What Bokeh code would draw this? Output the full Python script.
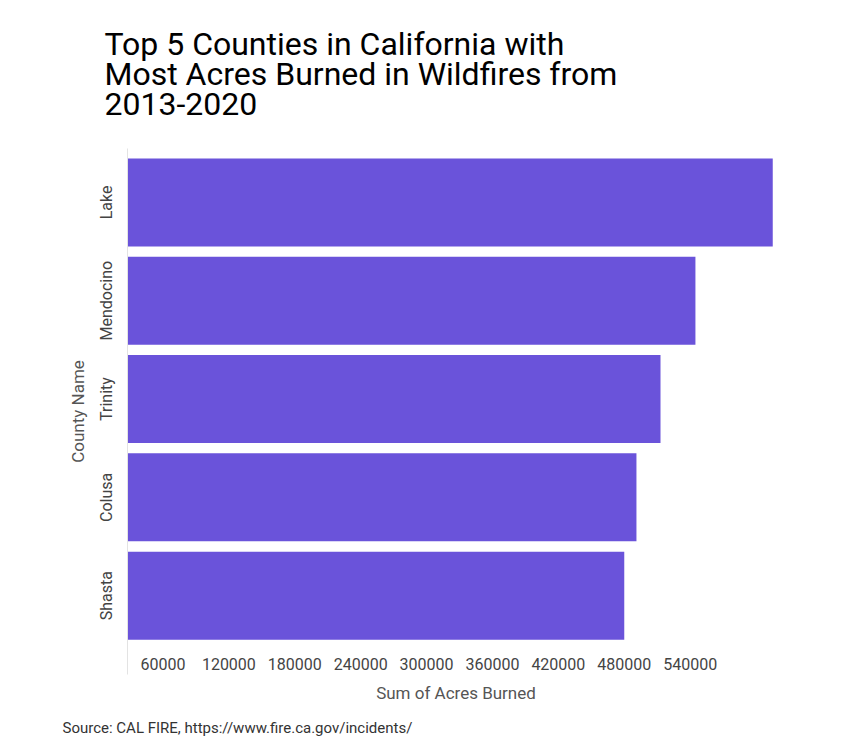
from bokeh.plotting import figure
from bokeh.models import Range1d, FixedTicker, Title, ColumnDataSource, BasicTickFormatter
from bokeh.embed import file_html
from bokeh.resources import INLINE

counties = ["Lake", "Mendocino", "Trinity", "Colusa", "Shasta"]
acres = [615200, 544800, 513000, 491100, 480000]
x_ticks = [60000, 120000, 180000, 240000, 300000, 360000, 420000, 480000, 540000]
title_lines = ["Top 5 Counties in California with",
               "Most Acres Burned in Wildfires from",
               "2013-2020"]
source_note = "Source: CAL FIRE, https://www.fire.ca.gov/incidents/"

positions = list(range(len(counties)))
src = ColumnDataSource(dict(y=positions, acres=acres, county=counties))

p = figure(width=867, height=748, output_backend="svg", toolbar_location=None,
           x_range=Range1d(27700, 625900), y_range=Range1d(4.802, -0.548),
           min_border_left=127, min_border_right=83, min_border_top=148,
           min_border_bottom=73)

p.hbar(y="y", left=0, right="acres", height=0.895, source=src,
       fill_color="#6A53DA", line_color=None)

p.grid.visible = False
p.outline_line_color = None

# y axis
p.yaxis.ticker = FixedTicker(ticks=positions)
p.yaxis.major_label_overrides = {i: c for i, c in zip(positions, counties)}
p.yaxis.major_label_orientation = "vertical"
p.yaxis.axis_line_color = "#e3e3e3"
p.yaxis.major_tick_line_color = None
p.yaxis.minor_tick_line_color = None
p.yaxis.major_tick_out = 0
p.yaxis.major_tick_in = 0
p.yaxis.minor_tick_out = 0
p.yaxis.major_label_text_font = "Roboto"
p.yaxis.major_label_text_font_size = "16px"
p.yaxis.major_label_text_color = "#444444"
p.yaxis.major_label_standoff = 11
p.yaxis.axis_label = "County Name"
p.yaxis.axis_label_text_font = "Roboto"
p.yaxis.axis_label_text_font_size = "17px"
p.yaxis.axis_label_text_font_style = "normal"
p.yaxis.axis_label_text_color = "#555555"
p.yaxis.axis_label_standoff = 7

# x axis
p.xaxis.ticker = FixedTicker(ticks=x_ticks)
p.xaxis.formatter = BasicTickFormatter(use_scientific=False)
p.xaxis.axis_line_color = None
p.xaxis.major_tick_line_color = None
p.xaxis.minor_tick_line_color = None
p.xaxis.major_tick_out = 0
p.xaxis.major_tick_in = 0
p.xaxis.minor_tick_out = 0
p.xaxis.major_label_text_font = "Roboto"
p.xaxis.major_label_text_font_size = "16px"
p.xaxis.major_label_text_color = "#444444"
p.xaxis.major_label_standoff = -17
p.xaxis.axis_label = "Sum of Acres Burned"
p.xaxis.axis_label_text_font = "Roboto"
p.xaxis.axis_label_text_font_size = "17px"
p.xaxis.axis_label_text_font_style = "normal"
p.xaxis.axis_label_text_color = "#555555"
p.xaxis.axis_label_standoff = 10

p.add_layout(Title(text=source_note, text_font="Roboto", text_font_size="15px",
                   text_font_style="normal", text_color="#333333", align="left",
                   offset=-65, standoff=23), "below")

p.add_layout(Title(text="\n".join(title_lines), text_font="Roboto",
                   text_font_size="32px", text_font_style="normal",
                   text_line_height=0.79, vertical_align="top",
                   text_color="#000000", align="left", offset=-23,
                   standoff=47), "above")

open("out.html", "w").write(file_html(p, INLINE))
